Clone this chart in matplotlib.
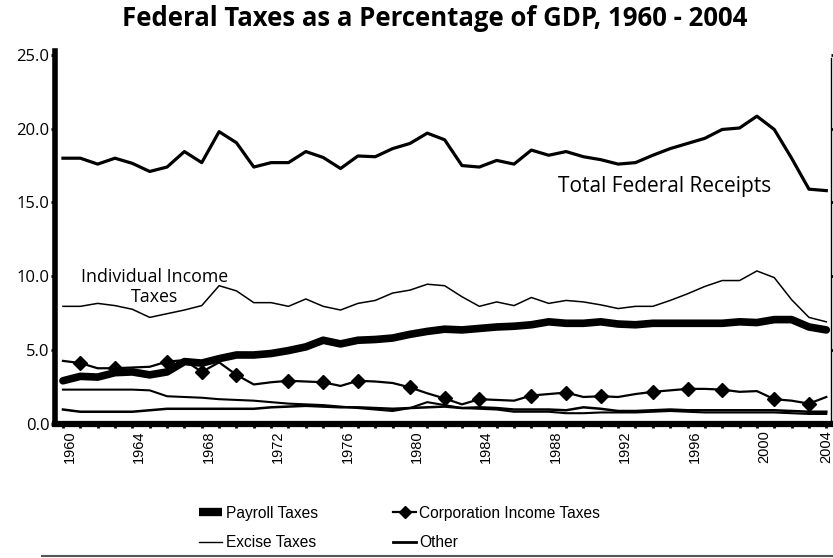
import numpy as np
import matplotlib.pyplot as plt
from matplotlib.lines import Line2D
from matplotlib.transforms import ScaledTranslation

years = np.arange(1960, 2005)

# percent of GDP
total = [18.0, 18.0, 17.6, 18.0, 17.65, 17.1, 17.4, 18.45, 17.7, 19.8,
         19.05, 17.4, 17.7, 17.7, 18.45, 18.05, 17.3, 18.15, 18.1, 18.65,
         19.0, 19.7, 19.25, 17.5, 17.4, 17.85, 17.6, 18.55, 18.2, 18.45,
         18.1, 17.9, 17.6, 17.7, 18.2, 18.65, 19.0, 19.35, 19.95, 20.05,
         20.85, 19.95, 18.0, 15.9, 15.8]
individual = [7.95, 7.95, 8.15, 8.0, 7.75, 7.2, 7.45, 7.7, 8.0, 9.35,
              9.0, 8.2, 8.2, 7.95, 8.45, 7.95, 7.7, 8.15, 8.35, 8.85,
              9.05, 9.45, 9.35, 8.6, 7.95, 8.25, 8.0, 8.55, 8.15, 8.35,
              8.25, 8.05, 7.8, 7.95, 7.95, 8.35, 8.8, 9.3, 9.7, 9.7,
              10.35, 9.9, 8.4, 7.2, 6.9]
payroll = [2.9, 3.2, 3.15, 3.45, 3.5, 3.3, 3.5, 4.2, 4.1, 4.4,
           4.65, 4.65, 4.75, 4.95, 5.2, 5.65, 5.4, 5.65, 5.7, 5.8,
           6.05, 6.25, 6.4, 6.35, 6.45, 6.55, 6.6, 6.7, 6.9, 6.8,
           6.8, 6.9, 6.75, 6.7, 6.8, 6.8, 6.8, 6.8, 6.8, 6.9,
           6.85, 7.05, 7.05, 6.55, 6.35]
corp = [4.25, 4.1, 3.75, 3.75, 3.8, 3.85, 4.2, 4.3, 3.5, 4.15,
        3.3, 2.65, 2.8, 2.9, 2.85, 2.8, 2.55, 2.9, 2.85, 2.75,
        2.45, 2.05, 1.7, 1.3, 1.65, 1.6, 1.55, 1.9, 2.0, 2.1,
        1.8, 1.85, 1.8, 2.0, 2.15, 2.25, 2.35, 2.35, 2.3, 2.15,
        2.2, 1.65, 1.55, 1.35, 1.8]
excise = [2.3, 2.3, 2.3, 2.3, 2.3, 2.25, 1.85, 1.8, 1.75, 1.65,
          1.6, 1.55, 1.45, 1.35, 1.3, 1.25, 1.15, 1.05, 0.95, 0.85,
          1.05, 1.45, 1.25, 1.05, 1.0, 0.95, 0.8, 0.8, 0.8, 0.7,
          0.7, 0.75, 0.75, 0.75, 0.8, 0.85, 0.8, 0.75, 0.75, 0.75,
          0.75, 0.75, 0.7, 0.65, 0.65]
other = [0.95, 0.8, 0.8, 0.8, 0.8, 0.9, 1.0, 1.0, 1.0, 1.0,
         1.0, 1.0, 1.1, 1.15, 1.2, 1.15, 1.1, 1.1, 1.05, 1.0,
         1.05, 1.1, 1.15, 1.05, 1.1, 1.05, 0.95, 0.95, 0.95, 0.9,
         1.1, 1.0, 0.85, 0.85, 0.9, 0.95, 0.9, 0.9, 0.9, 0.9,
         0.9, 0.9, 0.85, 0.8, 0.8]

label_years = list(range(1960, 2005, 4))
yticks = [0, 5, 10, 15, 20, 25]

fig = plt.figure(figsize=(8.33, 5.58), dpi=100)
ax = fig.add_axes([0.066, 0.241, 0.932, 0.667])

ax.plot(years, total, color='black', lw=2.3)
ax.plot(years, individual, color='black', lw=1.1)
ax.plot(years, other, color='black', lw=1.8)
ax.plot(years, excise, color='black', lw=1.5)
ax.plot(years, corp, color='black', lw=1.6, marker='D', ms=7.5,
        markevery=[1, 3, 6, 8, 10, 13, 15, 17, 20, 22, 24, 27, 29, 31,
                   34, 36, 38, 41, 43])
ax.plot(years, payroll, color='black', lw=5.5, solid_capstyle='round')

ax.set_xlim(1959.54, 2004.29)
ax.set_ylim(0, 25.25)

ax.spines['top'].set_visible(False)
ax.spines['left'].set_linewidth(4)
ax.spines['bottom'].set_linewidth(4.5)
ax.spines['right'].set_linewidth(1)
ax.spines['right'].set_bounds(0, 24.8)

ax.set_yticks(yticks)
ax.set_yticklabels(['%.1f' % v for v in yticks], family='Open Sans', fontsize=12)
ax.tick_params(axis='y', length=3, width=2, pad=1, right=True)
ax.set_xticks(years, minor=True)
ax.set_xticks(label_years)
ax.set_xticklabels([str(y) for y in label_years], rotation=90,
                   family='Liberation Sans', fontsize=10.5)
ax.tick_params(axis='x', which='both', length=3, width=2, pad=2)
shift = ScaledTranslation(0.07, 0, fig.dpi_scale_trans)
for lab in ax.get_xticklabels()[:-1]:
    lab.set_transform(lab.get_transform() + shift)

ax.text(1994.7, 16.05, 'Total Federal Receipts', family='Open Sans',
        fontsize=15, ha='center', va='center')
ax.text(1965.3, 9.95, 'Individual Income', family='Open Sans',
        fontsize=12.8, ha='center', va='center')
ax.text(1965.3, 8.6, 'Taxes', family='Open Sans',
        fontsize=12.8, ha='center', va='center')

fig.text(0.522, 0.966, 'Federal Taxes as a Percentage of GDP, 1960 - 2004',
         family='Open Sans', fontweight='bold', fontsize=18.5,
         ha='center', va='center')

handles = [
    Line2D([], [], color='black', lw=6, solid_capstyle='butt'),
    Line2D([], [], color='black', lw=1),
    Line2D([], [], color='black', lw=1.6, marker='D', ms=6.5),
    Line2D([], [], color='black', lw=2),
]
labels = ['Payroll Taxes', 'Excise Taxes', 'Corporation Income Taxes', 'Other']
fig.legend(handles, labels, ncol=2, loc='upper left',
           bbox_to_anchor=(0.239, 0.094), frameon=False,
           prop={'family': 'Liberation Sans', 'size': 11.2},
           handlelength=1.5, handletextpad=0.2, columnspacing=4.85,
           labelspacing=0.95, borderpad=0, borderaxespad=0)

fig.add_artist(Line2D([0.05, 1.0], [0.003, 0.003], color='#555555', lw=1.5,
                      transform=fig.transFigure))

fig.savefig('out.png', dpi=100)
